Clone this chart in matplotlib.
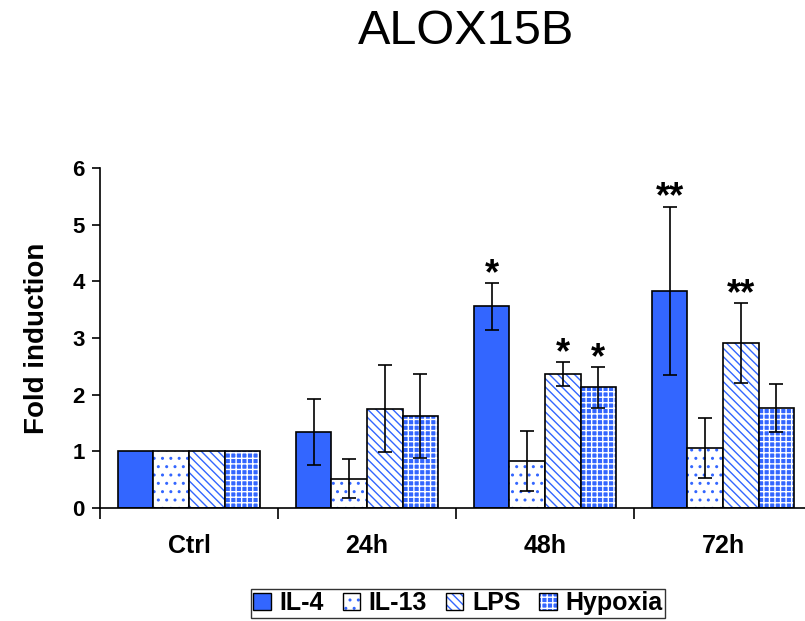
import numpy as np
import matplotlib.pyplot as plt
from matplotlib.patches import Patch
from matplotlib.legend_handler import HandlerTuple

plt.rcParams['font.family'] = ['Liberation Sans', 'DejaVu Sans']

# data
groups = ["Ctrl", "24h", "48h", "72h"]
series = ["IL-4", "IL-13", "LPS", "Hypoxia"]
il4 = [1.0, 1.34, 3.56, 3.83]
il13 = [1.0, 0.52, 0.83, 1.06]
lps = [1.0, 1.75, 2.36, 2.91]
hypoxia = [1.0, 1.62, 2.13, 1.76]
il4_err = [0, 0.58, 0.41, 1.49]
il13_err = [0, 0.34, 0.53, 0.53]
lps_err = [0, 0.77, 0.21, 0.70]
hypoxia_err = [0, 0.74, 0.36, 0.42]
il4_sig = ["", "", "*", "**"]
il13_sig = ["", "", "", ""]
lps_sig = ["", "", "*", "**"]
hypoxia_sig = ["", "", "*", ""]

blue = "#3366FF"
values = [il4, il13, lps, hypoxia]
errors = [il4_err, il13_err, lps_err, hypoxia_err]
sigs = [il4_sig, il13_sig, lps_sig, hypoxia_sig]
# (facecolor, hatch, hatch colour)
styles = [(blue, None, blue),
          ("white", "..", blue),
          ("white", "\\\\\\\\", blue),
          (blue, "+++", "white")]

fig = plt.figure(figsize=(8.05, 6.21), dpi=100)
ax = fig.add_axes([100/805, 1-508/621, 712/805, 340/621])

x = np.arange(len(groups))
w = 0.2
offsets = [-0.3, -0.1, 0.1, 0.3]

for vals, errs, sg, (fc, hatch, hc), off in zip(values, errors, sigs, styles, offsets):
    pos = x + off
    # hatch layer
    ax.bar(pos, vals, w, color=fc, edgecolor=hc, hatch=hatch, linewidth=0)
    # outline layer
    ax.bar(pos, vals, w, fill=False, edgecolor="black", linewidth=1.2)
    e = np.array(errs)
    mask = e > 0
    ax.errorbar(pos[mask], np.array(vals)[mask], yerr=e[mask], fmt="none",
                ecolor="black", elinewidth=1.2, capsize=5, capthick=1.2)
    for p, v, er, s in zip(pos, vals, errs, sg):
        if s:
            ax.text(p, v + er - 0.16, s, ha="center", va="bottom",
                    fontsize=26, fontweight="bold")

ax.set_xlim(-0.5, 3.5)
ax.set_ylim(0, 6)
ax.set_yticks(range(7))
ax.tick_params(axis="y", direction="out", length=6, width=1.2, labelsize=16,
               pad=5)
for lbl in ax.get_yticklabels():
    lbl.set_fontweight("bold")
ax.set_xticks(x)
ax.set_xticklabels(groups, fontsize=18, fontweight="bold")
ax.tick_params(axis="x", which="major", length=0, pad=19)
ax.set_xticks(np.arange(-0.5, 4.0, 1.0), minor=True)
ax.tick_params(axis="x", which="minor", direction="out", length=8, width=1.2)

ax.spines["top"].set_visible(False)
ax.spines["right"].set_visible(False)
ax.spines["left"].set_linewidth(1.2)
ax.spines["bottom"].set_linewidth(1.2)

ax.set_ylabel("Fold induction", fontsize=20, fontweight="bold", labelpad=16)

fig.text(466/805, 1-31/621, "ALOX15B", ha="center", va="center", fontsize=35)

handles = [(Patch(facecolor=fc, edgecolor=hc, hatch=h, linewidth=0),
            Patch(fill=False, edgecolor="black", linewidth=1))
           for fc, h, hc in styles]
leg = fig.legend(handles, series, loc="center", bbox_to_anchor=(458/805, 1-603/621),
                 ncol=4, frameon=True, fancybox=False, edgecolor="black",
                 prop={"weight": "bold", "size": 18}, handlelength=0.7,
                 handleheight=0.7, handletextpad=0.35, columnspacing=0.75,
                 borderpad=0.1, borderaxespad=0,
                 handler_map={tuple: HandlerTuple(ndivide=1, pad=0)})
leg.get_frame().set_linewidth(1.0)

fig.savefig("out.png", dpi=100)
